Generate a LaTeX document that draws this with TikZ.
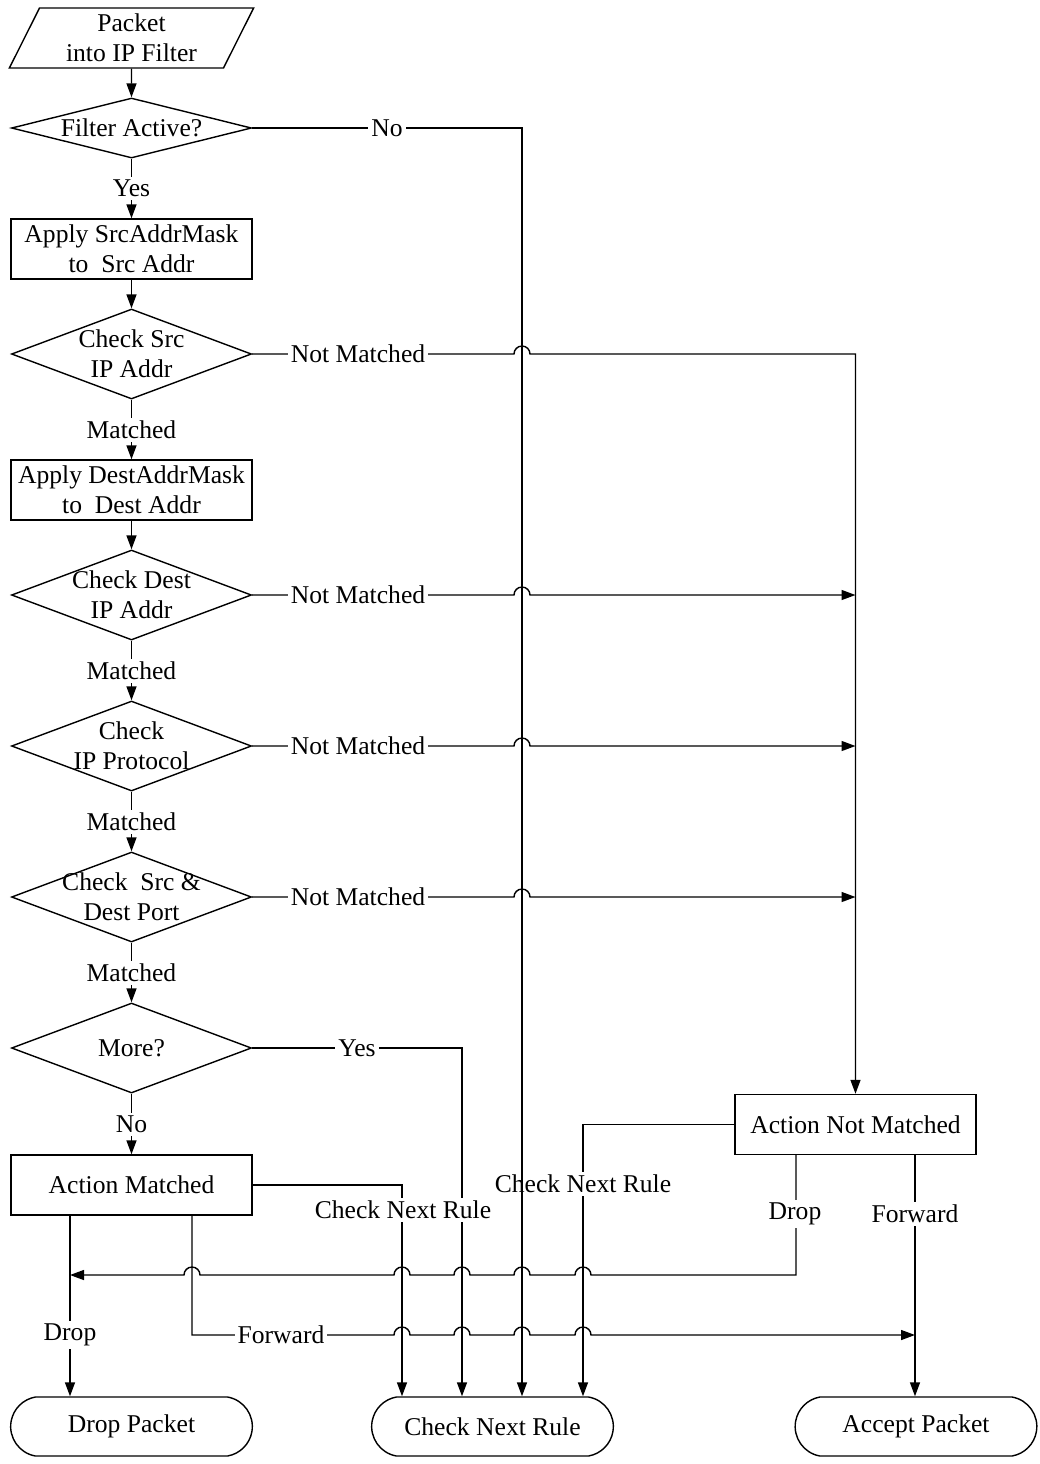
\documentclass[tikz,border=0pt]{standalone}
\usepackage{fontspec}
\setmainfont{Liberation Serif}
\usetikzlibrary{shapes.geometric,shapes.misc,arrows.meta}
\tikzset{io/.style = {shape=trapezium,draw,trapezium left angle=67,trapezium right angle=113,trapezium stretches=true,minimum width=123pt,minimum height=30pt,inner sep=1pt,align=center}}
\tikzset{decision/.style = {shape=diamond,draw,inner sep=0pt,minimum width=120pt,minimum height=45pt}}
\tikzset{process/.style = {shape=rectangle,draw,minimum width=120.5pt,minimum height=30pt,inner sep=1pt,align=center}}
\tikzset{terminal/.style = {shape=rounded rectangle,draw,rounded rectangle arc length=160,minimum width=127.5pt,minimum height=29.5pt}}
\tikzset{flow/.style = {-{Triangle[length=7pt,width=5pt]}}}
\tikzset{lbl/.style = {fill=white,inner sep=1.5pt}}
\newcommand{\hop}[2]{-- ({#1-8},#2) arc[start angle=180,end angle=0,radius=4pt]}
\newcommand{\hopback}[2]{-- ({#1+8},#2) arc[start angle=0,end angle=180,radius=4pt]}

\begin{document}
\begin{tikzpicture}[x=0.5pt,y=-0.5pt,line width=0.7pt,font=\fontsize{12.8}{15}\selectfont]
      \useasboundingbox (0,0) rectangle (1040,1464);
      \node[io] (pkt) at (131.5,38) {Packet\\into IP Filter};
      \node[decision,minimum height=30pt,label=center:Filter Active?] (fa) at (131.5,128) {};
      \node[process] (srcmask) at (131.5,249) {Apply SrcAddrMask\\to~ Src Addr};
      \node[decision,label={[align=center]center:Check Src\\IP Addr}] (csrc) at (131.5,354) {};
      \node[process] (dstmask) at (131.5,490) {Apply DestAddrMask\\to~ Dest Addr};
      \node[decision,label={[align=center]center:Check Dest\\IP Addr}] (cdst) at (131.5,595) {};
      \node[decision,label={[align=center]center:Check\\IP Protocol}] (cproto) at (131.5,746) {};
      \node[decision,label={[align=center]center:Check~ Src \&\\Dest Port}] (cport) at (131.5,897) {};
      \node[decision,label=center:More?] (more) at (131.5,1048) {};
      \node[process] (am) at (131.5,1185) {Action Matched};
      \node[process] (anm) at (855.5,1124.5) {Action Not Matched};
      \node[terminal] (drop) at (131.5,1426.5) {Drop Packet};
      \node[terminal] (next) at (492.5,1426.5) {Check Next Rule};
      \node[terminal] (accept) at (916,1426.5) {Accept Packet};

      \coordinate (amdrop) at (70,0);
      \coordinate (amfwd) at (192,0);
      \coordinate (amnext) at (402,0);
      \coordinate (moreyes) at (462,0);
      \coordinate (fano) at (522,0);
      \coordinate (anmnext) at (583,0);
      \coordinate (anmdrop) at (796,0);
      \coordinate (anmfwd) at (915,0);

      \draw[flow] (pkt.south) -- (fa.north);
      \draw[flow] (fa.south) -- node[lbl] {Yes} (srcmask.north);
      \draw[flow] (srcmask.south) -- (csrc.north);
      \draw[flow] (csrc.south) -- node[lbl] {Matched} (dstmask.north);
      \draw[flow] (dstmask.south) -- (cdst.north);
      \draw[flow] (cdst.south) -- node[lbl] {Matched} (cproto.north);
      \draw[flow] (cproto.south) -- node[lbl] {Matched} (cport.north);
      \draw[flow] (cport.south) -- node[lbl] {Matched} (more.north);
      \draw[flow] (more.south) -- node[lbl] {No} (am.north);

      \draw[flow] (csrc.east) \hop{522}{354} -| (anm.north);
      \draw[flow] (cdst.east) \hop{522}{595} -- (anm.north |- cdst.east);
      \draw[flow] (cproto.east) \hop{522}{746} -- (anm.north |- cproto.east);
      \draw[flow] (cport.east) \hop{522}{897} -- (anm.north |- cport.east);
      \node[lbl] (nm1) at (358,354) {Not Matched};
      \node[lbl] (nm2) at (358,595) {Not Matched};
      \node[lbl] (nm3) at (358,746) {Not Matched};
      \node[lbl] (nm4) at (358,897) {Not Matched};

      \draw[flow] (more.east) -| (next.north -| moreyes);
      \node[lbl] (yes2) at (357,1048) {Yes};
      \draw[flow] (am.east) -| (next.north -| amnext);
      \node[lbl] (cnr1) at (403,1210) {Check Next Rule};
      \draw[flow] (anm.west) -| (next.north -| anmnext);
      \node[lbl] (cnr2) at (583,1184) {Check Next Rule};

      \draw[flow] (anm.south -| anmdrop) -- (796,1275) \hopback{583}{1275} \hopback{522}{1275} \hopback{462}{1275} \hopback{402}{1275} \hopback{192}{1275} -- (70,1275);
      \node[lbl] (drop2) at (795,1214) {Drop};
      \draw[flow] (am.south -| amdrop) -- (drop.north -| amdrop);
      \node[lbl] (drop1) at (70,1335) {Drop};
      \draw[flow] (am.south -| amfwd) -- (192,1335) \hop{402}{1335} \hop{462}{1335} \hop{522}{1335} \hop{583}{1335} -- (915,1335);
      \node[lbl] (fwd1) at (281,1335) {Forward};
      \draw[flow] (anm.south -| anmfwd) -- (accept.north -| anmfwd);
      \node[lbl] (fwd2) at (915,1214) {Forward};

      \draw[flow] (fa.east) -| (next.north -| fano);
      \node[lbl] (no1) at (387,128) {No};
    \end{tikzpicture}
\end{document}
